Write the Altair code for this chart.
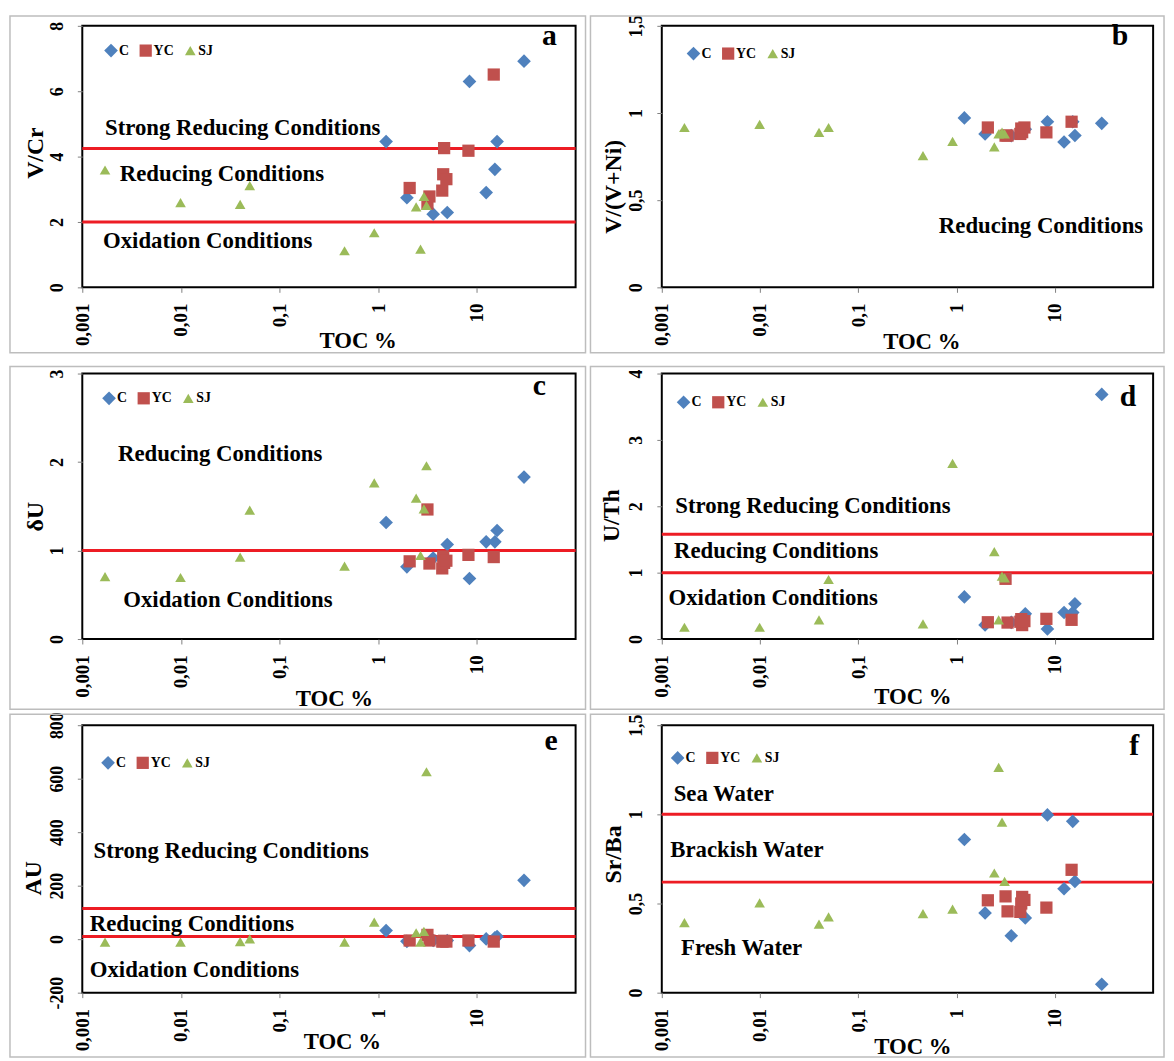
import altair as alt
import pandas as pd

FONT = "Liberation Serif"
SERIES = ["C", "YC", "SJ"]
COLORS = ["#4F81BD", "#C0504D", "#9BBB59"]
SHAPES = ["diamond", "square", "triangle-up"]
SIZES = [190, 115, 185]
X_TICKS = [0.001, 0.01, 0.1, 1, 10]

# TOC (%) of the samples of each series
TOC_C = [1.2, 1.95, 3.6, 5.0, 8.4, 12.4, 15.2, 16.0, 30.0]
TOC_YC = [2.08, 3.15, 3.3, 4.45, 4.55, 4.65, 4.9, 8.2, 14.8]
TOC_SJ = [0.0017, 0.0099, 0.0398, 0.0498, 0.455, 0.91, 2.42, 2.68, 2.9, 3.08]

# a: V/Cr
VCR_C = [4.46, 2.74, 2.24, 2.29, 6.30, 2.90, 3.61, 4.46, 6.92]
VCR_YC = [3.04, 2.56, 2.78, 2.96, 3.46, 4.26, 3.31, 4.18, 6.51]
VCR_SJ = [3.59, 2.59, 2.54, 3.11, 1.12, 1.67, 2.46, 1.17, 2.78, 2.51]
# b: V/(V+Ni)
VVNI_C = [0.972, 0.880, 0.870, 0.907, 0.950, 0.834, 0.950, 0.871, 0.941]
VVNI_YC = [0.917, 0.870, 0.871, 0.880, 0.911, 0.890, 0.917, 0.889, 0.950]
VVNI_SJ = [0.917, 0.935, 0.889, 0.917, 0.756, 0.837, 0.806, 0.880, 0.890, 0.880]
# c: deltaU
DU_C = [1.317, 0.816, 0.915, 1.068, 0.684, 1.098, 1.098, 1.226, 1.83]
DU_YC = [0.878, 1.464, 0.853, 0.798, 0.933, 0.860, 0.885, 0.951, 0.926]
DU_SJ = [0.706, 0.695, 0.926, 1.456, 0.823, 1.764, 1.592, 0.944, 1.471, 1.958]
# d: U/Th
UTH_C = [0.634, 0.213, 0.250, 0.380, 0.152, 0.400, 0.400, 0.532, 3.686]
UTH_YC = [0.253, 0.907, 0.248, 0.260, 0.300, 0.210, 0.270, 0.304, 0.289]
UTH_SJ = [0.177, 0.177, 0.289, 0.897, 0.228, 2.646, 1.318, 0.289, 0.948, 0.920]
# e: AU
AU_C = [32, -8, -5, -5, -24, 1, 5, 10, 220]
AU_YC = [-5, 16, -5, -9, -8, -6, -9, -5, -9]
AU_SJ = [-11, -11, -9, 1, -11, 64, 24, -11, 29, 626]
# f: Sr/Ba
SRBA_C = [0.859, 0.447, 0.319, 0.419, 0.997, 0.583, 0.961, 0.624, 0.047]
SRBA_YC = [0.518, 0.540, 0.456, 0.453, 0.500, 0.537, 0.520, 0.477, 0.689]
SRBA_SJ = [0.393, 0.503, 0.384, 0.425, 0.443, 0.468, 0.671, 1.263, 0.956, 0.624]

# threshold lines
LINES_A = [2.0, 4.25]
LINES_B = []
LINES_C = [1.0]
LINES_D = [1.0, 1.58]
LINES_E = [10, 115]
LINES_F = [0.62, 1.0]

# zone labels: text, TOC, value
NOTES_A = [("Strong Reducing Conditions", 0.0017, 4.88),
           ("Reducing Conditions", 0.0024, 3.48),
           ("Oxidation Conditions", 0.00162, 1.42)]
NOTES_B = [("Reducing Conditions", 0.66, 0.35)]
NOTES_C = [("Reducing Conditions", 0.0023, 2.09),
           ("Oxidation Conditions", 0.0026, 0.44)]
NOTES_D = [("Strong Reducing Conditions", 0.00137, 2.01),
           ("Reducing Conditions", 0.00133, 1.32),
           ("Oxidation Conditions", 0.00117, 0.61)]
NOTES_E = [("Strong Reducing Conditions", 0.0013, 329),
           ("Reducing Conditions", 0.00119, 57),
           ("Oxidation Conditions", 0.00119, -115)]
NOTES_F = [("Sea Water", 0.00132, 1.114),
           ("Brackish Water", 0.00122, 0.797),
           ("Fresh Water", 0.00157, 0.252)]

LABEL_EXPR = "replace(toString(datum.value), '.', ',')"


def panel(ytitle, ydom, yticks, yvals, lines, notes, letter, g):
    w, h = g["w"], g["h"]
    rows = []
    for s, tocs, ys in zip(SERIES, [TOC_C, TOC_YC, TOC_SJ], yvals):
        for t, v in zip(tocs, ys):
            rows.append({"series": s, "toc": t, "val": v})
    df = pd.DataFrame(rows)

    xscale = alt.Scale(type="log", domain=[0.001, 100], nice=False)
    yscale = alt.Scale(domain=ydom, nice=False, zero=False)
    xaxis = alt.Axis(values=X_TICKS, labelExpr=LABEL_EXPR, labelAngle=-90,
                     labelAlign="right", labelBaseline="middle", labelFlush=False,
                     labelOverlap=False, labelFont=FONT, labelFontSize=19,
                     labelFontWeight="bold", labelColor="black", labelPadding=11,
                     tickSize=5, tickColor="#808080", domain=False, grid=False,
                     title="TOC %", titleFont=FONT, titleFontSize=23,
                     titleFontWeight="bold", titleColor="black",
                     titleX=g["tx"], titleY=g["ty"], titleAlign="center",
                     titleBaseline="middle")
    yaxis = alt.Axis(values=yticks, labelExpr=LABEL_EXPR, labelAngle=-90,
                     labelAlign="center", labelBaseline="middle", labelFlush=False,
                     labelOverlap=False, labelFont=FONT, labelFontSize=18,
                     labelFontWeight="bold", labelColor="black", labelPadding=20,
                     tickSize=5, tickColor="#808080", domain=False, grid=False,
                     title=ytitle, titleFont=FONT, titleFontSize=24,
                     titleFontWeight="bold", titleColor="black",
                     titleX=g["yx"], titleY=g["yy"], titleAngle=-90,
                     titleAlign="center", titleBaseline="middle")

    frame = alt.Chart(alt.Data(values=[{}])).mark_rect(
        fill="white", fillOpacity=0, stroke="#BDBDBD", strokeWidth=1.5
    ).encode(x=alt.value(-g["L"]), x2=alt.value(w + g["R"]),
             y=alt.value(-g["T"]), y2=alt.value(h + g["B"]))

    legend = alt.Legend(title=None, orient="none", legendX=g["lx"], legendY=g["ly"],
                        direction="horizontal", labelFont=FONT, labelFontSize=14,
                        labelFontWeight="bold", labelColor="black", symbolSize=100,
                        symbolStrokeWidth=0, symbolOpacity=1, labelOffset=1,
                        columnPadding=9, padding=0)
    pts = alt.Chart(df).mark_point(filled=True, opacity=1).encode(
        x=alt.X("toc:Q", scale=xscale, axis=xaxis),
        y=alt.Y("val:Q", scale=yscale, axis=yaxis),
        color=alt.Color("series:N", scale=alt.Scale(domain=SERIES, range=COLORS),
                        legend=legend),
        shape=alt.Shape("series:N", scale=alt.Scale(domain=SERIES, range=SHAPES),
                        legend=legend),
        size=alt.Size("series:N", scale=alt.Scale(domain=SERIES, range=SIZES),
                      legend=legend),
    )

    ndf = pd.DataFrame(notes, columns=["text", "toc", "val"])
    txt = alt.Chart(ndf).mark_text(align="left", baseline="middle", font=FONT,
                                   fontSize=23, fontWeight="bold", color="black").encode(
        x=alt.X("toc:Q", scale=xscale, axis=xaxis),
        y=alt.Y("val:Q", scale=yscale, axis=yaxis),
        text="text:N")

    let = alt.Chart(alt.Data(values=[{"t": letter}])).mark_text(
        align="right", baseline="middle", font=FONT, fontSize=30,
        fontWeight="bold", color="black"
    ).encode(x=alt.value(g["kx"]), y=alt.value(g["ky"]), text="t:N")

    layers = [frame]
    if lines:
        rules = alt.Chart(pd.DataFrame({"v": lines})).mark_rule(
            color="#ED1C24", strokeWidth=3).encode(
            y=alt.Y("v:Q", scale=yscale, axis=yaxis))
        layers.append(rules)
    layers += [pts, txt, let]
    return alt.layer(*layers).properties(width=w, height=h)


# panel geometry (plot size, frame offsets, title / legend / letter positions)
GA = dict(w=498, h=264, L=73, R=10, T=10, B=66, tx=278, ty=54, yx=-47, yy=128,
          lx=22, ly=18, kx=479, ky=10)
GB = dict(w=496, h=264, L=72, R=11, T=10, B=66, tx=262, ty=55, yx=-49, yy=162,
          lx=25, ly=21, kx=471, ky=10)
GC = dict(w=498, h=268, L=73, R=10, T=7, B=71, tx=254, ty=60, yx=-47, yy=144,
          lx=20, ly=18, kx=468, ky=13)
GD = dict(w=496, h=268, L=72, R=11, T=7, B=71, tx=253, ty=58, yx=-51, yy=143,
          lx=15, ly=22, kx=479, ky=24)
GE = dict(w=498, h=270, L=73, R=10, T=11, B=65, tx=262, ty=49, yx=-49, yy=154,
          lx=19, ly=31, kx=480, ky=16)
GF = dict(w=496, h=270, L=72, R=11, T=11, B=65, tx=253, ty=54, yx=-49, yy=130,
          lx=9, ly=26, kx=482, ky=21)

pa = panel("V/Cr", [0, 8], [0, 2, 4, 6, 8], [VCR_C, VCR_YC, VCR_SJ], LINES_A, NOTES_A, "a", GA)
pb = panel("V/(V+Ni)", [0, 1.5], [0, 0.5, 1, 1.5], [VVNI_C, VVNI_YC, VVNI_SJ], LINES_B, NOTES_B, "b", GB)
pc = panel("δU", [0, 3], [0, 1, 2, 3], [DU_C, DU_YC, DU_SJ], LINES_C, NOTES_C, "c", GC)
pd_ = panel("U/Th", [0, 4], [0, 1, 2, 3, 4], [UTH_C, UTH_YC, UTH_SJ], LINES_D, NOTES_D, "d", GD)
pe = panel("AU", [-200, 800], [-200, 0, 200, 400, 600, 800], [AU_C, AU_YC, AU_SJ], LINES_E, NOTES_E, "e", GE)
pf = panel("Sr/Ba", [0, 1.5], [0, 0.5, 1, 1.5], [SRBA_C, SRBA_YC, SRBA_SJ], LINES_F, NOTES_F, "f", GF)

chart = alt.concat(pa, pb, pc, pd_, pe, pf, columns=2,
                   spacing={"row": 87, "column": 87}, bounds="flush", align="each"
).resolve_scale(
    color="independent", shape="independent", size="independent"
).configure(padding=0, background="white").configure_view(stroke="black", strokeWidth=2)

chart.save("out.html", embed_options={"renderer": "svg", "actions": False})
